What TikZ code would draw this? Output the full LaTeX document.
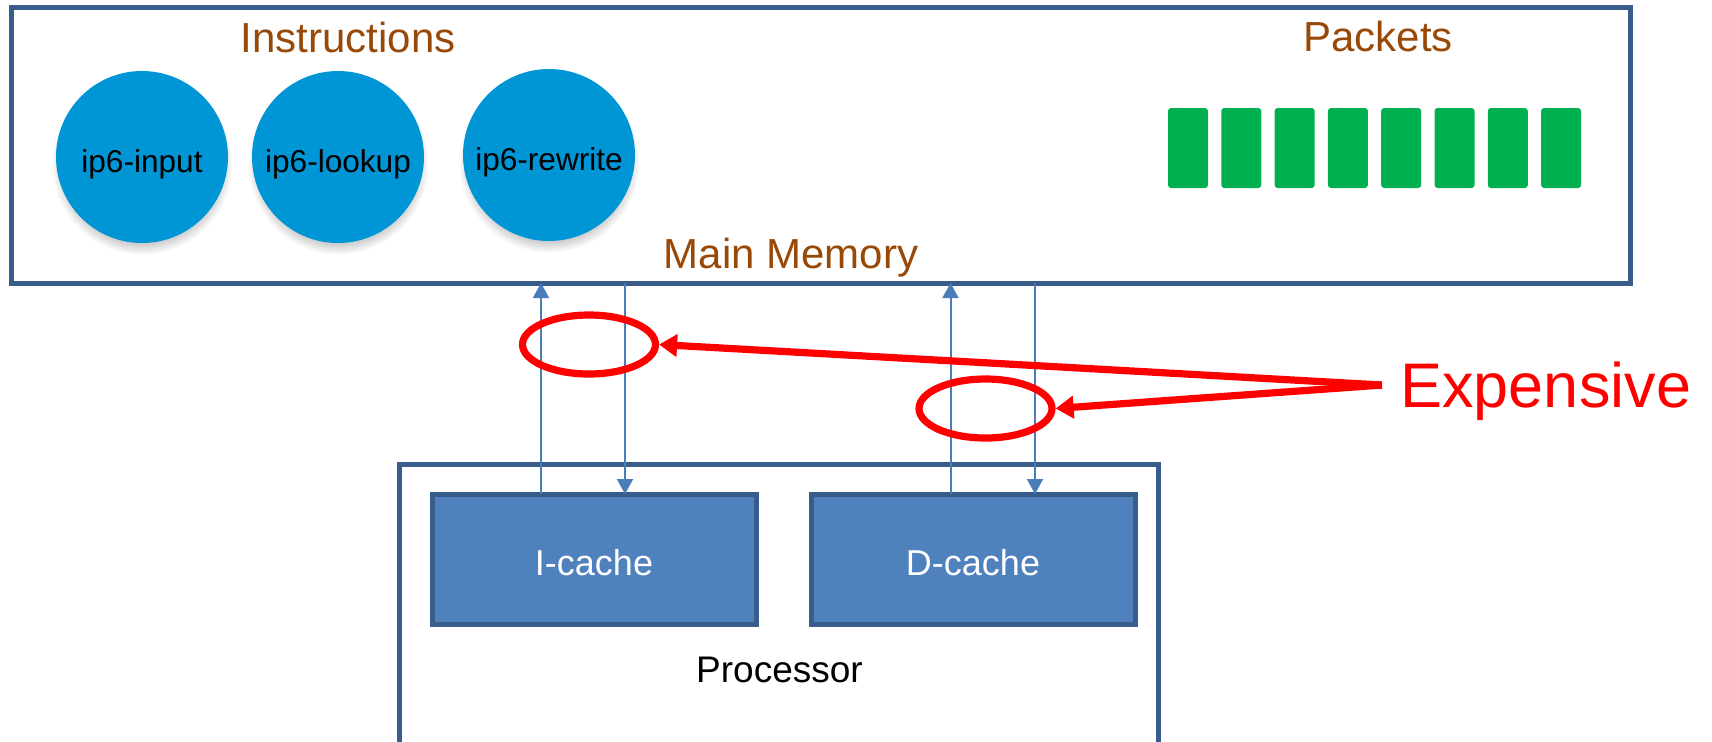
\documentclass[tikz,border=0pt]{standalone}
\usepackage{fontspec}
\setmainfont{Liberation Sans}
\usetikzlibrary{arrows.meta,shapes.geometric,shadows}

\definecolor{frame}{HTML}{385D8A}
\definecolor{cachefill}{HTML}{4F81BD}
\definecolor{labelbrown}{HTML}{984807}
\definecolor{funcblue}{HTML}{0096D6}
\definecolor{packetgreen}{HTML}{00B050}
\definecolor{linkblue}{HTML}{4A7EBB}

\begin{document}
\begin{tikzpicture}[x=0.5pt,y=-0.5pt,
  box/.style={draw=frame, line width=2.5pt, inner sep=0pt, outer sep=0pt},
  cachebox/.style={box, fill=cachefill, minimum width=162pt, minimum height=65pt,
    text=white, font=\fontsize{18}{20}\selectfont, text height=16pt, text depth=0pt},
  func/.style={circle, fill=funcblue, minimum size=86pt, inner sep=0pt,
    font=\fontsize{15.8}{17}\selectfont, text height=15.5pt, text depth=0pt,
    circular drop shadow={shadow xshift=0pt, shadow yshift=-3.5pt, shadow scale=1.05, opacity=0.45}},
  title/.style={text=labelbrown, font=\fontsize{21}{24}\selectfont, anchor=base, inner sep=0pt},
  packet/.style={fill=packetgreen, rounded corners=1.5pt, minimum width=20pt,
    minimum height=40pt, inner sep=0pt},
  ring/.style={draw=red, line width=3.6pt, ellipse, minimum width=66.5pt,
    minimum height=29.5pt, inner sep=0pt},
  bus/.style={draw=linkblue, line width=1pt, -{Triangle[width=8pt,length=7.5pt]}},
  alarm/.style={draw=red, line width=3.6pt, -{Triangle[width=11pt,length=9pt]}}
]
\useasboundingbox (0,0) rectangle (1712,741);
\clip (0,0) rectangle (1712,741);

% main memory
\node[box, minimum width=809.5pt, minimum height=138pt] (mem) at (820.5,145) {};
\node[title] (instr) at (348,52) {Instructions};
\node[title] (pkts) at (1378,51) {Packets};
\node[title] (memlbl) at (791,268) {Main Memory};

% instruction graph nodes
\node[func] (in) at (142,157) {ip6-input};
\node[func] (lk) at (338,157) {ip6-lookup};
\node[func] (rw) at (549,155) {ip6-rewrite};

% packet buffers
\foreach \i in {0,...,7}
  \node[packet] (pk\i) at (1188+53.3*\i,148) {};

% processor and caches
\node[box, minimum width=379.5pt, minimum height=148pt] (proc) at (778.5,612) {};
\node[cachebox] (icache) at (594,559) {I-cache};
\node[cachebox] (dcache) at (973,559) {D-cache};
\node[anchor=base, inner sep=0pt, font=\fontsize{18.5}{20}\selectfont] (proclbl) at (779.5,682) {Processor};

% memory traffic
\coordinate (iu) at (541,0);
\coordinate (id) at (625,0);
\coordinate (du) at (950.5,0);
\coordinate (dd) at (1035,0);
\draw[bus] (icache.north -| iu) -- (mem.south -| iu);
\draw[bus] (mem.south -| id) -- (icache.north -| id);
\draw[bus] (dcache.north -| du) -- (mem.south -| du);
\draw[bus] (mem.south -| dd) -- (dcache.north -| dd);

% cost callout
\node[ring] (r1) at (589,344.5) {};
\node[ring] (r2) at (985.5,408.5) {};
\node[anchor=base west, inner sep=0pt, text=red, font=\fontsize{31.5}{34}\selectfont] (exp) at (1400,407) {Expensive};
\coordinate (fork) at (1382,385);
\draw[alarm] (fork) -- (r1.east);
\draw[alarm] (fork) -- (r2.east);
\end{tikzpicture}
\end{document}
